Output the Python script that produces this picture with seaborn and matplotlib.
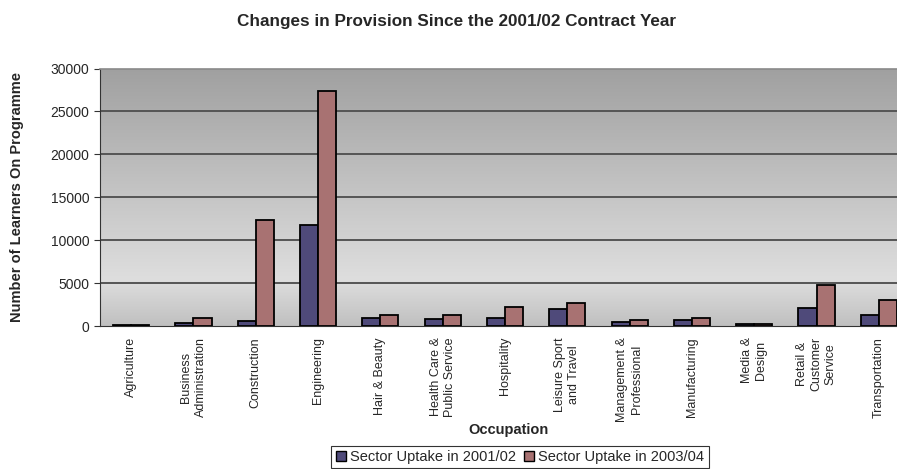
import numpy as np
import pandas as pd
import matplotlib
matplotlib.use("Agg")
from matplotlib import pyplot as plt
from matplotlib.colors import LinearSegmentedColormap
import seaborn as sns

occupations = ["Agriculture", "Business\nAdministration", "Construction", "Engineering",
               "Hair & Beauty", "Health Care &\nPublic Service", "Hospitality",
               "Leisure Sport\nand Travel", "Management &\nProfessional", "Manufacturing",
               "Media &\nDesign", "Retail &\nCustomer\nService", "Transportation"]
uptake_0102 = [100, 300, 600, 11800, 900, 800, 900, 1930, 430, 700, 270, 2130, 1240]
uptake_0304 = [100, 900, 12400, 27400, 1250, 1250, 2200, 2670, 730, 880, 200, 4770, 3020]
series = ["Sector Uptake in 2001/02", "Sector Uptake in 2003/04"]

df = pd.DataFrame({
    "occupation": occupations * 2,
    "value": uptake_0102 + uptake_0304,
    "series": [series[0]] * len(occupations) + [series[1]] * len(occupations),
})

sns.set_style("white")
plt.rcParams["font.family"] = ["Liberation Sans", "DejaVu Sans"]

fig = plt.figure(figsize=(8.97, 4.69), dpi=100)
ax = fig.add_axes([100 / 897, (469 - 326) / 469, 810 / 897, (326 - 68.5) / 469])

# gradient background
cmap = LinearSegmentedColormap.from_list("bg", [(0, "#c0c0c0"), (0.18, "#dedede"), (1, "#a0a0a0")])
grad = np.linspace(0, 1, 256).reshape(-1, 1)
ax.imshow(grad, aspect="auto", cmap=cmap, origin="lower",
          extent=[-0.5, len(occupations) - 0.5, 0, 30000], zorder=0)

sns.barplot(data=df, x="occupation", y="value", hue="series", ax=ax,
            palette=["#4f4a7a", "#a87272"], width=0.58, gap=0,
            edgecolor="black", linewidth=1.3, saturation=1, zorder=3)

ax.set_xlim(-0.5, len(occupations) - 0.5)
ax.set_ylim(0, 30000)
ax.set_yticks(range(0, 30001, 5000))
for y in range(5000, 30000, 5000):
    ax.axhline(y, color="#555555", lw=1.4, zorder=1)

ax.set_xticks(range(len(occupations)))
ax.set_xticklabels(occupations, rotation=90, fontsize=9, linespacing=1.25,
                   multialignment="center")
ax.set_xticks(np.arange(-0.5, len(occupations), 1), minor=True)
ax.tick_params(axis="x", which="major", length=0, pad=8)
ax.tick_params(axis="x", which="minor", length=4, width=0.8, color="#333333", direction="out")
ax.tick_params(axis="y", length=4, width=0.8, color="#333333", direction="out", labelsize=10)
ax.tick_params(bottom=True, left=True)

ax.spines["right"].set_visible(False)
ax.spines["top"].set_color("#8a8a8a")
ax.spines["top"].set_linewidth(1.2)
ax.spines["left"].set_color("#333333")
ax.spines["bottom"].set_color("#333333")

ax.set_xlabel("Occupation", fontsize=10.5, fontweight="bold")
ax.xaxis.set_label_coords(0.504, -0.375)
ax.set_ylabel("Number of Learners On Programme", fontsize=10.5, fontweight="bold")
ax.yaxis.set_label_coords(-0.094, 0.5)

fig.suptitle("Changes in Provision Since the 2001/02 Contract Year", x=0.509, y=0.97,
             fontsize=12.3, fontweight="bold")

ax.legend_.remove()
handles = [plt.Rectangle((0, 0), 1, 1, facecolor=c, edgecolor="black", lw=1)
           for c in ["#4f4a7a", "#a87272"]]
leg = fig.legend(handles, series, loc="center", bbox_to_anchor=(520 / 897, 1 - 457 / 469),
                 ncol=2, frameon=True, fontsize=10.5, handlelength=0.7, handleheight=0.7,
                 handletextpad=0.3, columnspacing=0.5, borderpad=0.3, fancybox=False)
leg.get_frame().set_edgecolor("black")
leg.get_frame().set_linewidth(0.8)

fig.savefig("out.png", dpi=100)
